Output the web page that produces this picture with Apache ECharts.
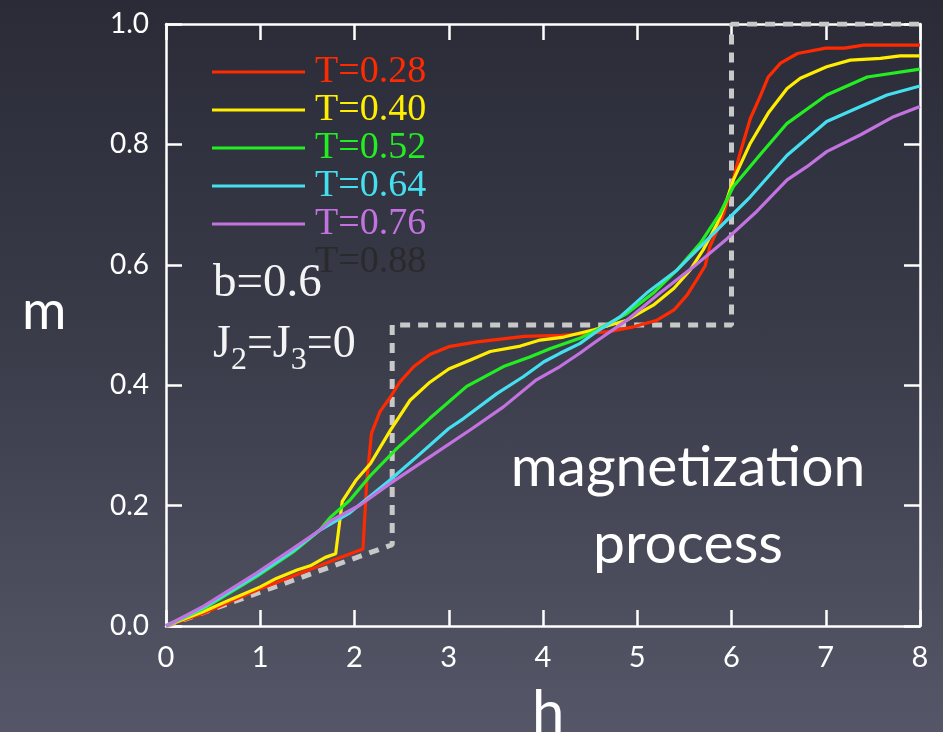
<!DOCTYPE html>
<html>
<head>
<meta charset="utf-8">
<script src="https://cdn.jsdelivr.net/npm/echarts@6/dist/echarts.min.js"></script>
<style>
  html, body { margin: 0; padding: 0; }
  body {
    width: 943px; height: 732px; overflow: hidden;
    background: linear-gradient(180deg, #2a2b37 0%, #3a3b49 45%, #555667 100%);
  }
  #chart { width: 943px; height: 732px; }
</style>
</head>
<body>
<div id="chart"></div>
<script>
// Magnetization m versus field h, b = 0.6, J2 = J3 = 0, several temperatures
const seriesNames = ['T=0.28', 'T=0.40', 'T=0.52', 'T=0.64', 'T=0.76', 'T=0.88'];
const seriesColors = ['#ff2a00', '#ffee00', '#22ee22', '#44e0f0', '#c373e0', '#2a2a2c'];

const hTicks = [0, 1, 2, 3, 4, 5, 6, 7, 8];
const mTickLabels = ['0.0', '0.2', '0.4', '0.6', '0.8', '1.0'];

// [h, m] samples
const mT028 = [[0,0],[0.4,0.021],[0.7,0.042],[1.0,0.062],[1.2,0.074],[1.5,0.092],[1.8,0.111],[2.09,0.128],[2.13,0.24],[2.18,0.32],[2.27,0.356],[2.38,0.38],[2.48,0.405],[2.63,0.431],[2.8,0.451],[3.0,0.464],[3.3,0.472],[3.8,0.481],[4.2,0.483],[4.7,0.489],[4.96,0.497],[5.21,0.508],[5.39,0.525],[5.53,0.55],[5.63,0.575],[5.72,0.598],[5.77,0.63],[5.85,0.658],[5.92,0.686],[5.99,0.724],[6.09,0.785],[6.2,0.843],[6.31,0.882],[6.39,0.912],[6.52,0.935],[6.7,0.951],[7.0,0.96],[7.2,0.96],[7.4,0.965],[8.0,0.965]];
const mT040 = [[0,0],[0.4,0.024],[0.7,0.045],[1.0,0.065],[1.17,0.079],[1.39,0.093],[1.53,0.1],[1.69,0.114],[1.8,0.12],[1.87,0.207],[2.02,0.243],[2.17,0.27],[2.38,0.325],[2.59,0.375],[2.8,0.405],[3.0,0.427],[3.23,0.442],[3.44,0.456],[3.76,0.465],[3.97,0.475],[4.22,0.48],[4.54,0.492],[4.89,0.508],[5.17,0.533],[5.39,0.561],[5.56,0.591],[5.7,0.625],[5.85,0.669],[5.95,0.708],[6.02,0.741],[6.2,0.802],[6.39,0.852],[6.59,0.893],[6.73,0.91],[7.01,0.929],[7.26,0.94],[7.58,0.943],[7.79,0.947],[8,0.947]];
const mT052 = [[0,0],[0.4,0.029],[0.96,0.082],[1.35,0.123],[1.63,0.159],[1.74,0.18],[1.95,0.209],[2.17,0.25],[2.45,0.295],[2.8,0.345],[3.19,0.398],[3.58,0.431],[3.86,0.447],[4.08,0.461],[4.39,0.478],[4.54,0.489],[4.89,0.519],[5.17,0.553],[5.42,0.591],[5.67,0.636],[5.88,0.686],[6.02,0.73],[6.31,0.784],[6.59,0.835],[7.01,0.882],[7.44,0.912],[8,0.925]];
const mT064 = [[0,0],[0.4,0.031],[0.96,0.084],[1.35,0.125],[1.63,0.159],[1.95,0.188],[2.38,0.243],[2.66,0.281],[3.0,0.328],[3.16,0.345],[3.51,0.386],[3.79,0.414],[4.01,0.439],[4.18,0.453],[4.39,0.469],[4.54,0.486],[4.82,0.514],[5.1,0.553],[5.42,0.591],[5.67,0.63],[5.95,0.674],[6.2,0.713],[6.59,0.782],[7.01,0.838],[7.37,0.863],[7.65,0.882],[8,0.897]];
const mT076 = [[0,0],[0.4,0.033],[0.96,0.088],[1.35,0.129],[1.63,0.159],[1.74,0.174],[2.06,0.201],[2.38,0.237],[2.8,0.281],[3.23,0.326],[3.58,0.364],[3.93,0.409],[4.18,0.431],[4.39,0.453],[4.54,0.47],[4.89,0.508],[5.24,0.553],[5.6,0.597],[5.95,0.643],[6.25,0.686],[6.59,0.741],[6.8,0.763],[7.01,0.788],[7.37,0.816],[7.72,0.846],[8,0.863]];
const mT088 = [];

// ground-state staircase
const groundState = [[0,0],[2.4,0.135],[2.4,0.5],[6,0.5],[6,1.0],[8,1.0]];

const curves = [mT028, mT040, mT052, mT064, mT076, mT088];

const chart = echarts.init(document.getElementById('chart'), null, { renderer: 'canvas' });

function frameAxis(extra) {
  return Object.assign({
    type: 'value',
    gridIndex: 0,
    show: true,
    axisLine: { show: true, onZero: false, lineStyle: { color: '#ffffff', width: 2.5 } },
    axisTick: { show: true, inside: true, length: 16, lineStyle: { color: '#ffffff', width: 2.5 } },
    splitLine: { show: false }
  }, extra);
}

const series = curves.map((d, i) => ({
  name: seriesNames[i],
  type: 'line',
  xAxisIndex: 0,
  yAxisIndex: 0,
  data: d,
  showSymbol: false,
  symbol: 'none',
  z: 3,
  color: seriesColors[i],
  lineStyle: { color: seriesColors[i], width: 3.2 },
  animation: false
}));
series.unshift({
  name: 'ground',
  type: 'line',
  xAxisIndex: 0,
  yAxisIndex: 0,
  data: groundState,
  showSymbol: false,
  symbol: 'none',
  z: 2,
  lineStyle: { color: '#c8c8c8', width: 5, type: [10, 8] },
  animation: false
});

const legendData = seriesNames.map((n, i) => {
  const item = { name: n, textStyle: { color: seriesColors[i] } };
  if (i === seriesNames.length - 1) {
    item.itemStyle = { opacity: 0 };
  }
  return item;
});

chart.setOption({
  backgroundColor: 'transparent',
  animation: false,
  grid: { left: 166, right: 23, top: 24, bottom: 106 },
  legend: {
    data: legendData,
    orient: 'vertical',
    left: 212,
    top: 53,
    padding: 0,
    itemGap: 0,
    icon: 'rect',
    itemWidth: 93,
    itemHeight: 3,
    selectedMode: false,
    textStyle: { fontFamily: 'Liberation Serif', fontSize: 38, lineHeight: 37, padding: [0, 0, 0, 5] }
  },
  xAxis: [
    frameAxis({
      position: 'bottom', min: 0, max: 8, interval: 1,
      axisLabel: { margin: 17, color: '#ffffff', fontFamily: 'Lato', fontSize: 29, formatter: v => String(hTicks[Math.round(v)]) }
    }),
    frameAxis({
      position: 'top', min: 0, max: 8, interval: 1,
      axisLabel: { show: false }
    })
  ],
  yAxis: [
    frameAxis({
      position: 'left', min: 0, max: 1, interval: 0.2,
      axisLabel: { margin: 17, color: '#ffffff', fontFamily: 'Lato', fontSize: 28, formatter: v => mTickLabels[Math.round(v / 0.2)] }
    }),
    frameAxis({
      position: 'right', min: 0, max: 1, interval: 0.2,
      axisLabel: { show: false }
    })
  ],
  series: series,
  graphic: [
    { type: 'text', left: 22, top: 285, style: { text: 'm', fill: '#ffffff', font: '54px Lato' } },
    { type: 'text', left: 532, top: 684, style: { text: 'h', fill: '#ffffff', font: '58px Lato' } },
    { type: 'text', x: 213, y: 284, style: { text: 'b=0.6', fill: '#f4f4f4', font: '47px "Liberation Serif"', verticalAlign: 'middle' } },
    {
      type: 'text', x: 213, y: 322,
      style: {
        text: '{n|J}{s|2}{n|=J}{s|3}{n|=0}',
        fill: '#f4f4f4',
        rich: {
          n: { fontFamily: 'Liberation Serif', fontSize: 46, lineHeight: 46, verticalAlign: 'top', fill: '#f4f4f4' },
          s: { fontFamily: 'Liberation Serif', fontSize: 32, lineHeight: 32, verticalAlign: 'top', padding: [23, 0, 0, 0], fill: '#f4f4f4' }
        }
      }
    },
    { type: 'text', x: 688, y: 468, style: { text: 'magnetization', fill: '#ffffff', font: '57px Lato', align: 'center', verticalAlign: 'middle' } },
    { type: 'text', x: 688, y: 545, style: { text: 'process', fill: '#ffffff', font: '57px Lato', align: 'center', verticalAlign: 'middle' } }
  ]
});
</script>
</body>
</html>
